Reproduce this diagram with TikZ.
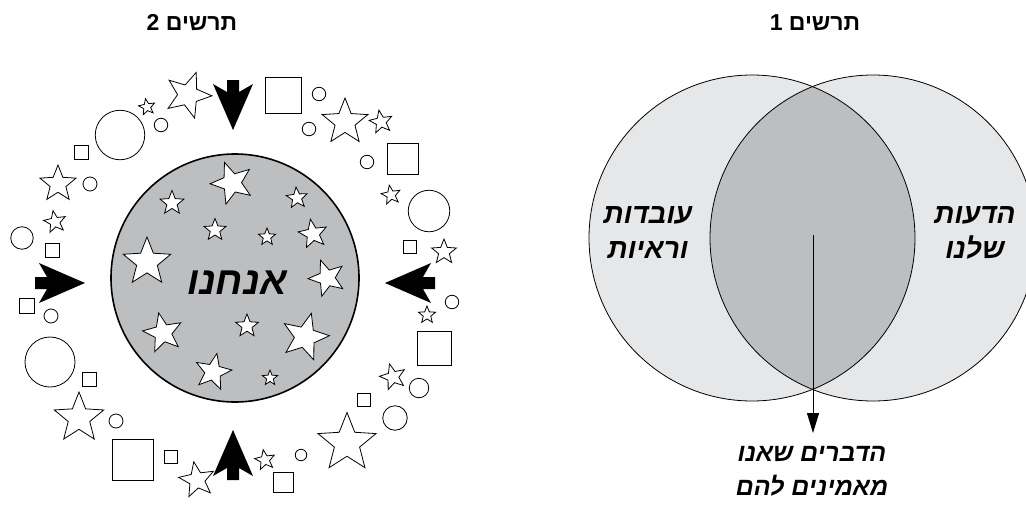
\documentclass[tikz,border=0pt]{standalone}
\usepackage{fontspec}
\usetikzlibrary{shapes.geometric,arrows.meta}
\newfontfamily\hebfont[Script=Hebrew]{Liberation Sans}
\TeXXeTstate=1
\definecolor{lightg}{HTML}{E6E7E8}
\definecolor{midg}{HTML}{BCBEC0}
\newcommand{\hebtext}[1]{{\hebfont\beginR #1\endR}}
\begin{document}
\begin{tikzpicture}[x=1pt,y=-1pt,
  st/.style={star,star points=5,star point ratio=2.3,draw=black,fill=white,line width=0.8pt,inner sep=0pt,minimum size=#1},
  sq/.style={rectangle,draw=black,fill=white,line width=0.8pt,inner sep=0pt,minimum size=#1},
  ci/.style={circle,draw=black,fill=white,line width=0.8pt,inner sep=0pt,minimum size=#1},
  title/.style={font=\bfseries\fontsize{23}{26}\selectfont},
  lab/.style={font=\bfseries\itshape\fontsize{28}{35}\selectfont,align=center},
  blab/.style={font=\bfseries\itshape\fontsize{25}{34}\selectfont,align=center},
  inarrow/.pic={\fill[black] (0,0) -- (-46,-20) -- (-38,-6) -- (-50,-6) -- (-50,6) -- (-38,6) -- (-46,20) -- cycle;}
]
\useasboundingbox (0,0) rectangle (1026,509);

% ---------- titles ----------
\node[title] (t2) at (192,23) {\hebtext{תרשים 2}};
\node[title] (t1) at (815,23) {\hebtext{תרשים 1}};

% ---------- diagram 2 ----------
\node[circle,draw=black,fill=midg,line width=1.6pt,inner sep=0pt,minimum size=248pt] (us) at (235,278) {};
% inner stars
\node[st=44,rotate=20] (i1) at (232,183) {};
\node[st=25] (i2) at (172,203) {};
\node[st=22,rotate=5] (i3) at (297,198) {};
\node[st=23] (i4) at (215,230) {};
\node[st=18] (i5) at (267,237) {};
\node[st=30,rotate=10] (i6) at (313,234) {};
\node[st=50] (i7) at (147,262) {};
\node[st=38,rotate=20] (i8) at (327,278) {};
\node[st=41,rotate=12] (i9) at (163,333) {};
\node[st=24] (i10) at (247,326) {};
\node[st=49,rotate=-15] (i11) at (305,337) {};
\node[st=38,rotate=-12] (i12) at (213,372) {};
\node[st=16] (i13) at (270,378) {};
\node[font=\bfseries\itshape\fontsize{39}{40}\selectfont] (ustext) at (237,283) {\hebtext{אנחנו}};

% outer stars
\node[st=48,rotate=-20] (oA) at (188,95) {};
\node[st=17,rotate=10] (oB) at (147,107) {};
\node[st=38] (oC) at (58,184) {};
\node[st=23,rotate=10] (oD) at (55,222) {};
\node[st=52] (oE) at (79,418) {};
\node[st=37,rotate=10] (oF) at (197,480) {};
\node[st=21,rotate=10] (oG) at (265,460) {};
\node[st=61] (oH) at (347,443) {};
\node[st=27,rotate=15] (oI) at (393,377) {};
\node[st=18] (oJ) at (427,315) {};
\node[st=26] (oK) at (444,252) {};
\node[st=20,rotate=10] (oL) at (391,195) {};
\node[st=48] (oM) at (345,122) {};
\node[st=24,rotate=10] (oN) at (381,122) {};

% squares
\node[sq=14] (q1) at (81,152) {};
\node[sq=14] (q2) at (52,250) {};
\node[sq=15] (q3) at (27,306) {};
\node[sq=14] (q4) at (89,379) {};
\node[sq=41] (q5) at (133,460) {};
\node[sq=13] (q6) at (171,457) {};
\node[sq=20] (q7) at (283,482) {};
\node[sq=12.5] (q8) at (364,400) {};
\node[sq=34] (q9) at (434,348) {};
\node[sq=12.5] (q10) at (410,247) {};
\node[sq=30.5] (q11) at (403,159) {};
\node[sq=36] (q12) at (283.5,95) {};

% circles
\node[ci=13.5] (c1) at (319,94) {};
\node[ci=13.5] (c2) at (309,129) {};
\node[ci=13.5] (c3) at (161,125) {};
\node[ci=49.5] (c4) at (120,135) {};
\node[ci=14] (c5) at (90,184) {};
\node[ci=22.5] (c6) at (22,238) {};
\node[ci=13.5] (c7) at (367,162) {};
\node[ci=41.5] (c8) at (429,211) {};
\node[ci=13.5] (c9) at (452,302) {};
\node[ci=14] (c10) at (51,316) {};
\node[ci=50] (c11) at (50,362) {};
\node[ci=14] (c12) at (116,421) {};
\node[ci=19.5] (c13) at (419,388) {};
\node[ci=24.5] (c14) at (395,418) {};
\node[ci=11.5] (c15) at (301,455) {};

% four inward arrows
\pic[rotate=-90] at (233,130) {inarrow};
\pic[rotate=90] at (233,430) {inarrow};
\pic at (85,283) {inarrow};
\pic[rotate=180] at (385,283) {inarrow};

% ---------- diagram 1 (Venn) ----------
\fill[lightg] (752,238) circle[radius=163];
\fill[lightg] (873,238) circle[radius=163];
\begin{scope}
  \clip (752,238) circle[radius=163];
  \fill[midg] (873,238) circle[radius=163];
\end{scope}
\draw[line width=0.8pt] (752,238) circle[radius=163];
\draw[line width=0.8pt] (873,238) circle[radius=163];

\node[lab] (facts) at (648,233) {\hebtext{עובדות}\\\hebtext{וראיות}};
\node[lab] (opin) at (975,233) {\hebtext{הדעות}\\\hebtext{שלנו}};
\coordinate (vstart) at (813,235);
\coordinate (vend) at (813,433);
\node[blab] (believe) at (812,471) {\hebtext{הדברים שאנו}\\\hebtext{מאמינים להם}};
\draw[line width=1pt,-{Triangle[length=20pt,width=12pt]}] (vstart) -- (vend);
\end{tikzpicture}
\end{document}
